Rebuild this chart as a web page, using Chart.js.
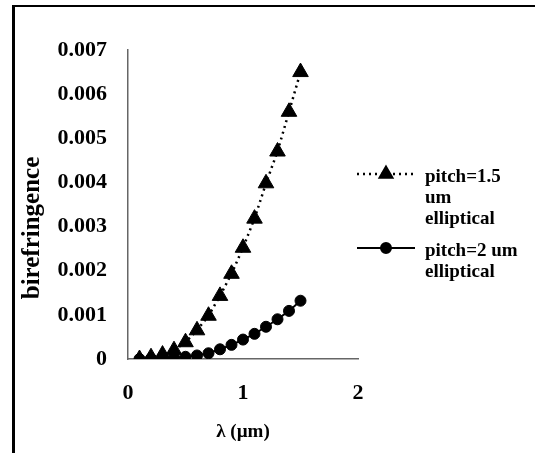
<!DOCTYPE html>
<html>
<head>
<meta charset="utf-8">
<script src="https://cdn.jsdelivr.net/npm/chart.js@4.4.0/dist/chart.umd.min.js"></script>
<style>
  html, body { margin: 0; padding: 0; background: #fff; }
  #wrap { position: relative; width: 535px; height: 453px; }
  #frame { position: absolute; left: 12px; top: 5px; width: 530px; height: 460px;
           border-left: 3px solid #000; border-top: 2px solid #000; pointer-events: none; }
  canvas { position: absolute; left: 0; top: 0; }
</style>
</head>
<body>
<div id="wrap">
  <canvas id="chart" width="535" height="453"></canvas>
  <div id="frame"></div>
</div>
<script>
// wavelength (um)
const lambda = [0.1, 0.2, 0.3, 0.4, 0.5, 0.6, 0.7, 0.8, 0.9, 1.0, 1.1, 1.2, 1.3, 1.4, 1.5];
// pitch = 1.5 um elliptical
const biref15 = [0, 0.00004, 0.0001, 0.0002, 0.00038, 0.00065, 0.00098, 0.00143, 0.00193,
                 0.00252, 0.00318, 0.00398, 0.0047, 0.0056, 0.0065];
// pitch = 2 um elliptical
const biref2 = [0, 0.00001, 0.00002, 0.00003, 0.00005, 0.00008, 0.00013, 0.00022, 0.00032,
                0.00044, 0.00057, 0.00073, 0.0009, 0.00109, 0.00132];

const legendItems = [
  { lines: ["pitch=1.5", "um", "elliptical"], style: "triangle", dash: [2, 4] },
  { lines: ["pitch=2 um", "elliptical"], style: "circle", dash: [] }
];
const yTitle = "birefringence";

const FONT = "'Liberation Serif', 'Times New Roman', serif";

// legend + y title drawn by hand (Excel wraps the legend text, title sits low)
const sideLegend = {
  id: "sideLegend",
  afterDraw(chart) {
    const ctx = chart.ctx;
    ctx.save();
    ctx.fillStyle = "#000";
    ctx.font = "bold 25px " + FONT;
    ctx.textAlign = "center";
    ctx.textBaseline = "middle";
    ctx.translate(33, 228);
    ctx.rotate(-Math.PI / 2);
    ctx.fillText(yTitle, 0, 0);
    ctx.restore();

    let y = 177;
    ctx.save();
    legendItems.forEach(item => {
      const ly = y - 3;
      ctx.strokeStyle = "#000";
      ctx.fillStyle = "#000";
      ctx.lineWidth = item.dash.length ? 2.5 : 2;
      ctx.setLineDash(item.dash);
      ctx.beginPath();
      ctx.moveTo(357, ly);
      ctx.lineTo(415, ly);
      ctx.stroke();
      ctx.setLineDash([]);
      Chart.helpers.drawPoint(ctx, {
        pointStyle: item.style,
        radius: item.style === "triangle" ? 7 : 5,
        borderWidth: 1
      }, 386, ly);
      ctx.font = "bold 19px " + FONT;
      ctx.textAlign = "left";
      ctx.textBaseline = "middle";
      item.lines.forEach((line, i) => {
        ctx.fillText(line, 425, y + i * 21);
      });
      y += item.lines.length * 21 + 11;
    });
    ctx.restore();
  }
};

const ctx = document.getElementById("chart").getContext("2d");
new Chart(ctx, {
  type: "line",
  data: {
    datasets: [
      {
        label: "pitch=1.5 um elliptical",
        data: lambda.map((x, i) => ({ x: x, y: biref15[i] })),
        borderColor: "#000",
        backgroundColor: "#000",
        borderWidth: 2.5,
        borderDash: [2, 4],
        pointStyle: "triangle",
        pointRadius: 9,
        pointBorderWidth: 1
      },
      {
        label: "pitch=2 um elliptical",
        data: lambda.map((x, i) => ({ x: x, y: biref2[i] })),
        borderColor: "#000",
        backgroundColor: "#000",
        borderWidth: 2,
        pointStyle: "circle",
        pointRadius: 5.5,
        pointBorderWidth: 1
      }
    ]
  },
  plugins: [sideLegend],
  options: {
    responsive: false,
    animation: false,
    layout: { padding: { left: 20, right: 177, top: 50, bottom: 6 } },
    plugins: {
      legend: { display: false },
      tooltip: { enabled: false }
    },
    scales: {
      x: {
        type: "linear",
        min: 0,
        max: 2,
        grid: { display: false },
        border: { display: true, color: "#666", width: 1.5 },
        ticks: {
          stepSize: 1,
          padding: 13,
          color: "#000",
          font: { family: FONT, size: 22, weight: "bold" }
        },
        title: {
          display: true,
          text: "λ (µm)",
          color: "#000",
          padding: { top: 12 },
          font: { family: FONT, size: 19, weight: "bold" }
        },
        afterFit(scale) { scale.height = 88; }
      },
      y: {
        min: 0,
        max: 0.007,
        grid: { display: false },
        border: { display: true, color: "#666", width: 1.5 },
        ticks: {
          stepSize: 0.001,
          padding: 13,
          color: "#000",
          font: { family: FONT, size: 22, weight: "bold" },
          callback: v => v === 0 ? "0" : v.toFixed(3)
        },
        afterFit(scale) { scale.width = 108; }
      }
    }
  }
});
</script>
</body>
</html>
